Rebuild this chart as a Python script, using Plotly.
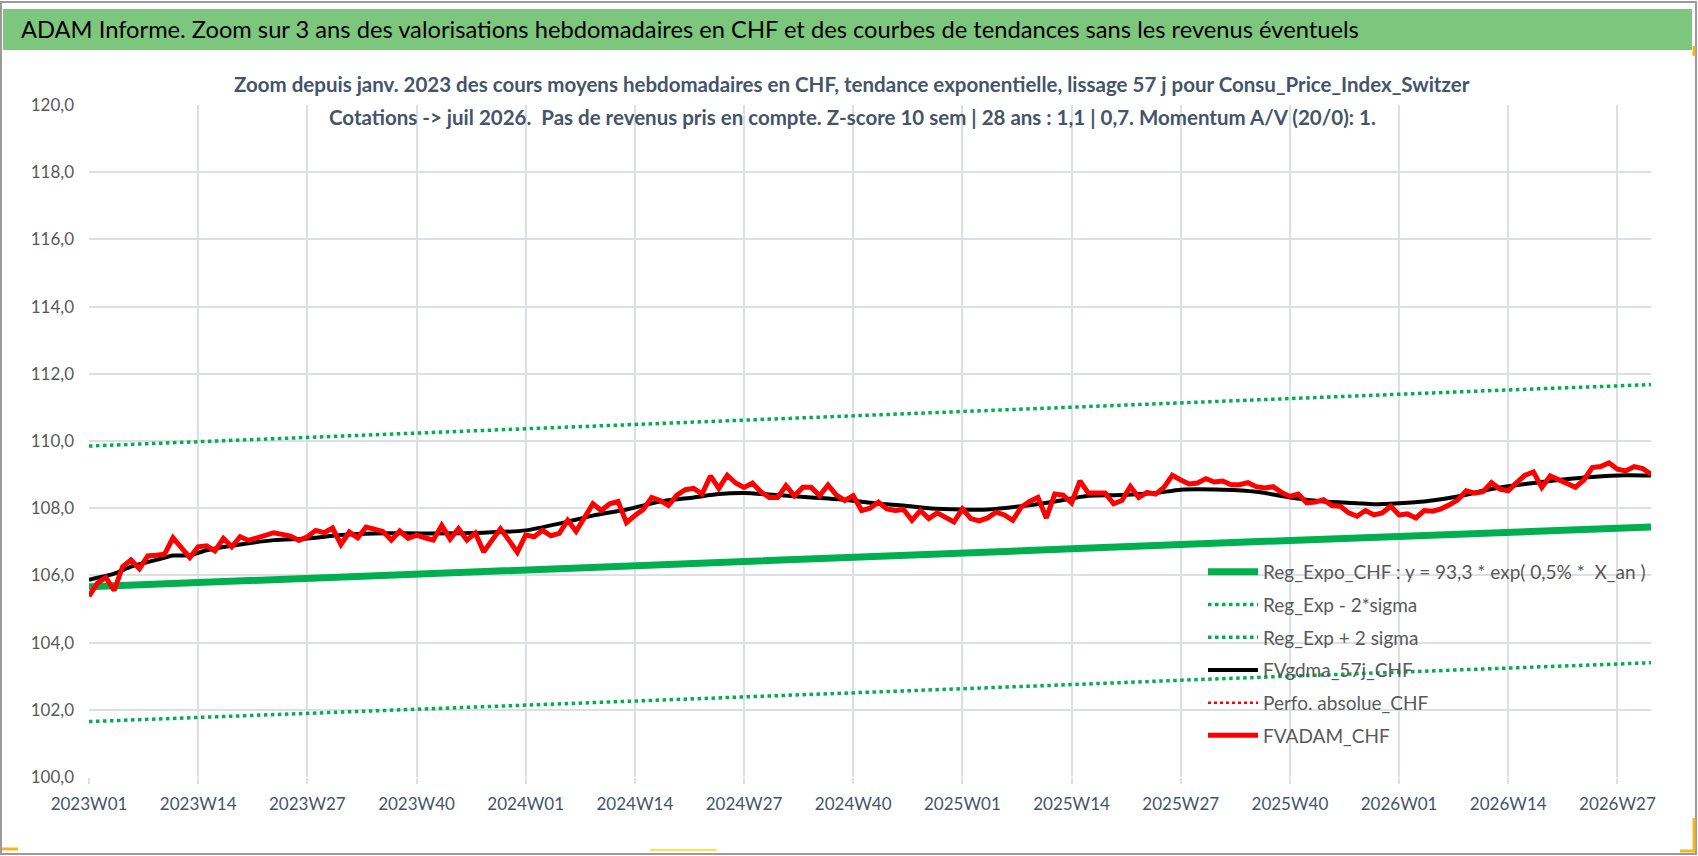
import plotly.graph_objects as go

# Semaines ISO affichées (2023W01 -> 2026W31)
weeks = []
for year, n_weeks in [(2023, 52), (2024, 52), (2025, 52), (2026, 31)]:
    for w in range(1, n_weeks + 1):
        weeks.append(f"{year}W{w:02d}")

tick_labels = ["2023W01", "2023W14", "2023W27", "2023W40", "2024W01", "2024W14", "2024W27",
               "2024W40", "2025W01", "2025W14", "2025W27", "2025W40", "2026W01", "2026W14", "2026W27"]

# FVADAM_CHF : cours moyens hebdomadaires
fvadam = [105.38, 105.77, 105.94, 105.55, 106.26, 106.46, 106.2, 106.58, 106.6, 106.63, 107.12, 106.8,
          106.53, 106.85, 106.88, 106.73, 107.1, 106.85, 107.15, 107.04, 107.12, 107.18, 107.27, 107.22,
          107.17, 107.04, 107.15, 107.34, 107.27, 107.41, 106.92, 107.29, 107.12, 107.44, 107.37, 107.31,
          107.05, 107.32, 107.1, 107.2, 107.12, 107.05, 107.49, 107.08, 107.39, 107.05, 107.26, 106.7,
          107.05, 107.39, 107.05, 106.69, 107.2, 107.15, 107.34, 107.18, 107.25, 107.64, 107.31, 107.69,
          108.13, 107.93, 108.13, 108.2, 107.57, 107.78, 107.96, 108.32, 108.23, 108.08, 108.39, 108.55,
          108.59, 108.42, 108.96, 108.59, 108.98, 108.75, 108.62, 108.75, 108.49, 108.32, 108.32, 108.67,
          108.37, 108.62, 108.62, 108.37, 108.69, 108.39, 108.23, 108.37, 107.93, 108.0, 108.18,
          107.98, 107.93, 107.96, 107.64, 107.93, 107.69, 107.86, 107.71, 107.59, 107.98, 107.69, 107.62,
          107.71, 107.88, 107.8, 107.64, 108.03, 108.2, 108.32, 107.71, 108.42, 108.39, 108.16, 108.81,
          108.45, 108.45, 108.45, 108.13, 108.23, 108.65, 108.32, 108.47, 108.42, 108.62, 108.98, 108.84,
          108.72, 108.75, 108.88, 108.78, 108.81, 108.7, 108.7, 108.76, 108.64,
          108.6, 108.64, 108.47, 108.35, 108.42, 108.16, 108.18, 108.25, 108.08, 108.06, 107.86, 107.76,
          107.93, 107.8, 107.86, 108.06, 107.8, 107.83, 107.71, 107.93, 107.91, 107.98, 108.1, 108.25,
          108.52, 108.45, 108.49, 108.76, 108.57, 108.52, 108.76, 108.98, 109.08, 108.62, 108.96, 108.86,
          108.72, 108.62, 108.84, 109.21, 109.24, 109.35, 109.16, 109.11, 109.24, 109.18, 109.01]

# FVgdma_57j_CHF : moyenne glissante (relevés ponctuels)
ma_weeks = ["2023W01", "2023W04", "2023W06", "2023W09", "2023W11", "2023W13", "2023W15", "2023W19",
            "2023W23", "2023W27", "2023W31", "2023W35", "2023W41", "2023W48", "2024W01", "2024W05",
            "2024W09", "2024W13", "2024W17", "2024W21", "2024W24", "2024W27", "2024W31", "2024W35",
            "2024W39", "2024W43", "2024W46", "2024W49", "2025W01", "2025W04", "2025W08", "2025W12",
            "2025W16", "2025W20", "2025W24", "2025W27", "2025W32", "2025W36", "2025W40", "2025W44",
            "2025W48", "2025W50", "2026W01", "2026W04", "2026W08", "2026W12", "2026W16", "2026W20",
            "2026W24", "2026W28", "2026W31"]
ma_values = [105.87, 106.05, 106.26, 106.46, 106.59, 106.6, 106.75, 106.92, 107.05, 107.1, 107.2, 107.25,
             107.25, 107.27, 107.34, 107.54, 107.78, 107.96, 108.2, 108.32, 108.42, 108.45, 108.39, 108.32,
             108.25, 108.13, 108.08, 108.0, 107.96, 107.96, 108.06, 108.2, 108.37, 108.39, 108.45, 108.55,
             108.55, 108.49, 108.32, 108.2, 108.15, 108.12, 108.15, 108.2, 108.35, 108.57, 108.72, 108.84,
             108.93, 108.98, 108.97]

# Régression exponentielle et bandes +/- 2 sigma
reg_weeks = tick_labels + ["2026W31"]
reg_expo = [105.66, 105.78, 105.91, 106.03, 106.16, 106.28, 106.41, 106.54, 106.66, 106.79, 106.92,
            107.05, 107.17, 107.29, 107.4, 107.44]
reg_minus = [101.65, 101.77, 101.89, 102.01, 102.14, 102.26, 102.38, 102.5, 102.62, 102.75, 102.88,
             103.0, 103.12, 103.24, 103.37, 103.4]
reg_plus = [109.85, 109.98, 110.11, 110.24, 110.36, 110.49, 110.62, 110.75, 110.88, 111.0, 111.13,
            111.26, 111.39, 111.52, 111.64, 111.68]
perfo = [None]

W, H = 1698, 856
L, R, T, B = 89, 47, 105, 79
FONT = "Lato, Liberation Sans, sans-serif"
GREEN = "#00B050"
HANDLE = "#F2B824"


def px(x):
    return (x - L) / (W - L - R)


def py(y):
    return (H - B - y) / (H - T - B)


fig = go.Figure()
fig.add_trace(go.Scatter(x=reg_weeks, y=reg_expo, mode="lines", name="Reg_Expo_CHF : y = 93,3 * exp( 0,5% *  X_an )",
                         line=dict(color=GREEN, width=7), legendgroup="a"))
fig.add_trace(go.Scatter(x=reg_weeks, y=reg_minus, mode="lines", name="Reg_Exp - 2*sigma",
                         line=dict(color=GREEN, width=3.5, dash="dot"), legendgroup="b"))
fig.add_trace(go.Scatter(x=reg_weeks, y=reg_plus, mode="lines", name="Reg_Exp + 2 sigma",
                         line=dict(color=GREEN, width=3.5, dash="dot"), legendgroup="c"))
fig.add_trace(go.Scatter(x=ma_weeks, y=ma_values, mode="lines", name="FVgdma_57j_CHF",
                         line=dict(color="black", width=4, shape="spline", smoothing=0.6), legendgroup="d"))
fig.add_trace(go.Scatter(x=weeks[:1], y=perfo, mode="lines", name="Perfo. absolue_CHF",
                         line=dict(color="#FF0000", width=2.5, dash="dot"), legendgroup="e"))
fig.add_trace(go.Scatter(x=weeks, y=fvadam, mode="lines", name="FVADAM_CHF",
                         line=dict(color="#FF0000", width=5), legendgroup="f"))

fig.update_layout(
    width=W, height=H,
    margin=dict(l=L, r=R, t=T, b=B),
    paper_bgcolor="white", plot_bgcolor="white",
    separators=", ",
    font=dict(family=FONT, color="#595959"),
    showlegend=True,
    legend=dict(x=px(1203), y=py(553), xanchor="left", yanchor="top", bgcolor="rgba(0,0,0,0)",
                font=dict(size=19, color="#595959", family=FONT), itemwidth=50,
                tracegroupgap=5, traceorder="grouped"),
    xaxis=dict(type="category", categoryorder="array", categoryarray=weeks,
               range=[0, len(weeks) - 1], tickmode="array", tickvals=tick_labels, ticktext=tick_labels,
               showgrid=True, gridcolor="#DCDFE3", gridwidth=1.5, zeroline=False, showline=False,
               ticks="outside", ticklen=6, tickcolor="#DCDFE3", tickwidth=1.5, ticklabelstandoff=6,
               tickfont=dict(size=17, color="#44546A"), tickangle=0),
    yaxis=dict(range=[100, 120], dtick=2, tickformat=".1f", showgrid=True, gridcolor="#DCDFE3",
               gridwidth=1.5, zeroline=False, showline=False, ticks="", ticklabelstandoff=14,
               tickfont=dict(size=17, color="#595959")),
    shapes=[
        dict(type="rect", xref="paper", yref="paper", x0=px(1), x1=px(W - 2), y0=py(H - 2), y1=py(2),
             line=dict(color="#9A9A9A", width=2), fillcolor="rgba(0,0,0,0)", layer="below"),
        dict(type="rect", xref="paper", yref="paper", x0=px(3), x1=px(1692), y0=py(50), y1=py(9),
             line=dict(width=0), fillcolor="#7DC67D", layer="below"),
        dict(type="line", xref="paper", yref="paper", x0=px(650), x1=px(717), y0=py(850), y1=py(850),
             line=dict(color="#F7E84A", width=2)),
        dict(type="line", xref="paper", yref="paper", x0=px(2), x1=px(18), y0=py(849), y1=py(849),
             line=dict(color=HANDLE, width=3)),
        dict(type="line", xref="paper", yref="paper", x0=px(1694), x1=px(1694), y0=py(46), y1=py(56),
             line=dict(color=HANDLE, width=3)),
        dict(type="line", xref="paper", yref="paper", x0=px(1694), x1=px(1694), y0=py(818), y1=py(851),
             line=dict(color=HANDLE, width=3)),
        dict(type="line", xref="paper", yref="paper", x0=px(1680), x1=px(1695), y0=py(851), y1=py(851),
             line=dict(color=HANDLE, width=3)),
    ],
    annotations=[
        dict(text="ADAM Informe. Zoom sur 3 ans des valorisations hebdomadaires en CHF et des courbes de tendances sans les revenus éventuels",
             xref="paper", yref="paper", x=px(19), y=py(29), xanchor="left", yanchor="middle",
             showarrow=False, font=dict(size=23.7, color="black", family=FONT)),
        dict(text="<b>Zoom depuis janv. 2023 des cours moyens hebdomadaires en CHF, tendance exponentielle, lissage 57 j pour Consu_Price_Index_Switzer</b>",
             xref="paper", yref="paper", x=px(852), y=py(84), xanchor="center", yanchor="middle",
             showarrow=False, font=dict(size=20.5, color="#44546A", family=FONT)),
        dict(text="<b>Cotations -> juil 2026.  Pas de revenus pris en compte. Z-score 10 sem | 28 ans : 1,1 | 0,7. Momentum A/V (20/0): 1.</b>",
             xref="paper", yref="paper", x=px(852), y=py(117), xanchor="center", yanchor="middle",
             showarrow=False, font=dict(size=20.5, color="#44546A", family=FONT)),
    ],
)

fig.write_html("out.html", config={"displayModeBar": False},
               post_script="document.body.style.margin = '0px';")
